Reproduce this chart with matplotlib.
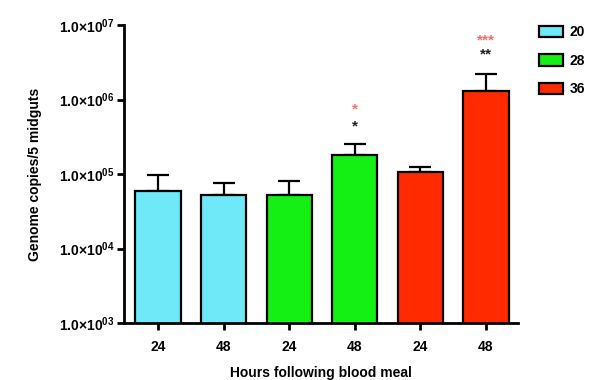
import matplotlib
matplotlib.use('Agg')
import matplotlib.pyplot as plt
from matplotlib.patches import Patch
import numpy as np

# Data
hours = ['24', '48', '24', '48', '24', '48']
groups = ['20', '20', '28', '28', '36', '36']
means = [6.0e4, 5.2e4, 5.3e4, 1.8e5, 1.07e5, 1.3e6]
err_top = [9.8e4, 7.6e4, 8.0e4, 2.5e5, 1.25e5, 2.2e6]
legend_labels = ['20', '28', '36']
group_colors = {'20': '#6FE8F7', '28': '#14F014', '36': '#FF2A00'}

# significance marks: (bar index, text, colour, y position in data units)
marks = [(3, '*', '#F07070', 10**5.87), (3, '*', '#202020', 10**5.64),
         (5, '***', '#F07070', 10**6.79), (5, '**', '#202020', 10**6.60)]

plt.rcParams['font.family'] = ['Liberation Sans', 'DejaVu Sans']
plt.rcParams['font.weight'] = 'bold'
plt.rcParams['mathtext.default'] = 'regular'

fig = plt.figure(figsize=(5.89, 3.8), dpi=100)
ax = fig.add_axes([0.2105, 0.15, 0.669, 0.784])

x = np.arange(len(means))
colors = [group_colors[g] for g in groups]
ax.bar(x, means, width=0.69, color=colors, edgecolor='black', linewidth=1.6,
       zorder=2)
yerr = [np.zeros(len(means)), np.array(err_top) - np.array(means)]
ax.errorbar(x, means, yerr=yerr, fmt='none', ecolor='black', elinewidth=1.6,
            capsize=8, capthick=1.6, zorder=1)

for i, txt, col, yv in marks:
    ax.text(x[i], yv, txt, color=col, ha='center', va='center', fontsize=11,
            fontweight='bold')

ax.set_yscale('log')
ax.set_ylim(1e3, 1e7)
ax.set_xlim(-0.52, 5.49)
yt = [1e3, 1e4, 1e5, 1e6, 1e7]
ax.set_yticks(yt)
ax.set_yticklabels(['1.0×10$^{0%d}$' % int(np.log10(v)) for v in yt])
ax.yaxis.set_minor_locator(matplotlib.ticker.NullLocator())
ax.set_xticks(x)
ax.set_xticklabels(hours)

ax.spines['top'].set_visible(False)
ax.spines['right'].set_visible(False)
ax.spines['left'].set_linewidth(2)
ax.spines['bottom'].set_linewidth(2)
ax.tick_params(axis='both', width=2, length=5, direction='out')
ax.tick_params(axis='y', labelsize=10, pad=2)
ax.tick_params(axis='x', labelsize=10, pad=7)

ax.set_ylabel('Genome copies/5 midguts', fontsize=10, fontweight='bold',
              labelpad=12)
ax.set_xlabel('Hours following blood meal', fontsize=10, fontweight='bold',
              labelpad=9)

handles = [Patch(facecolor=group_colors[g], edgecolor='black', linewidth=1.6)
           for g in legend_labels]
fig.legend(handles, legend_labels, loc='upper left',
           bbox_to_anchor=(0.905, 0.948), frameon=False, fontsize=10,
           handlelength=1.75, handleheight=0.9, labelspacing=1.05,
           handletextpad=0.5, borderaxespad=0)

fig.savefig('out.png', dpi=100)
